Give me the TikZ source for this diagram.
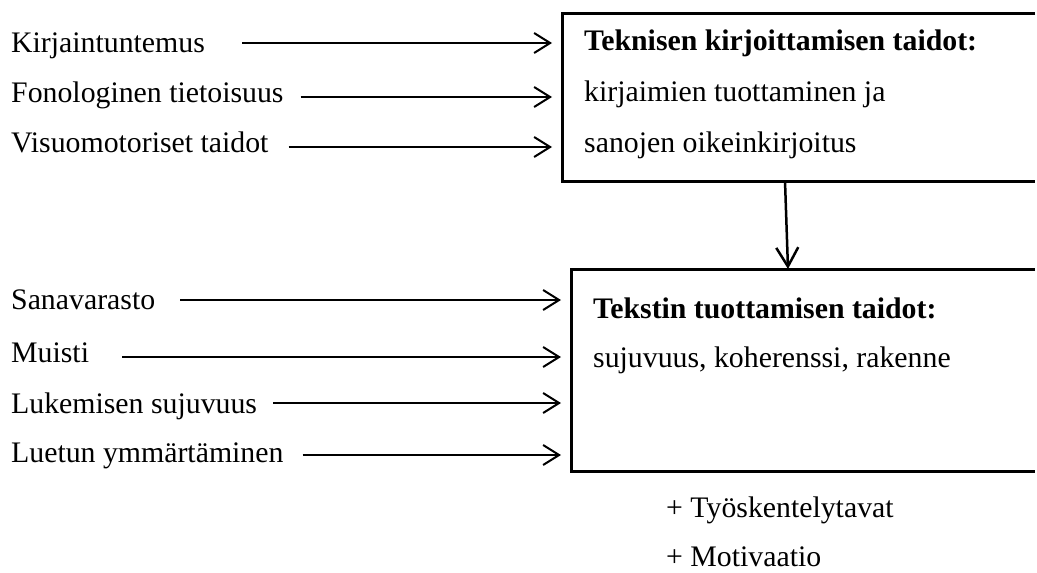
\documentclass[tikz,border=0pt]{standalone}
\usepackage{fontspec}
\setmainfont{Liberation Serif}
\usetikzlibrary{arrows.meta}
\begin{document}
\begin{tikzpicture}[x=1pt,y=1pt,
  lab/.style={anchor=base west, inner sep=0pt, font=\fontsize{29.8}{36}\selectfont},
  box/.style={rectangle, inner sep=0pt, outer sep=0pt, anchor=north west},
  boxline/.style={line width=3pt, line join=miter},
  arr/.style={line width=2pt, shorten >=10pt, -{Straight Barb[length=16pt,width=20pt,line width=2pt]}},
  varr/.style={line width=2.5pt, -{Straight Barb[length=19pt,width=22pt,line width=2.5pt]}}
]
\useasboundingbox (0,0) rectangle (1037,-573);

% boxes (open on the right: they run to the picture edge)
\node[box, minimum width=473pt, minimum height=168pt] (b1) at (562,-13) {};
\node[box, minimum width=464pt, minimum height=202pt] (b2) at (571,-269) {};
\draw[boxline] (b1.north east) -- (b1.north west) -- (b1.south west) -- (b1.south east);
\draw[boxline] (b2.north east) -- (b2.north west) -- (b2.south west) -- (b2.south east);

% box texts
\node[lab] (t1) at (584,-50) {\textbf{Teknisen kirjoittamisen taidot:}};
\node[lab] (t2) at (584,-101) {kirjaimien tuottaminen ja};
\node[lab] (t3) at (584,-152) {sanojen oikeinkirjoitus};
\node[lab] (t4) at (593,-318) {\textbf{Tekstin tuottamisen taidot:}};
\node[lab] (t5) at (593,-367) {sujuvuus, koherenssi, rakenne};

% left labels
\node[lab] (k) at (11,-52) {Kirjaintuntemus};
\node[lab] (f) at (11,-102) {Fonologinen tietoisuus};
\node[lab] (v) at (11,-152) {Visuomotoriset taidot};
\node[lab] (s) at (11,-309) {Sanavarasto};
\node[lab] (m) at (11,-362) {Muisti};
\node[lab] (l) at (11,-413) {Lukemisen sujuvuus};
\node[lab] (y) at (11,-462) {Luetun ymmärtäminen};

% extra factors
\node[lab] (p1) at (666,-517) {+ Työskentelytavat};
\node[lab] (p2) at (666,-566) {+ Motivaatio};

% connectors
\draw[arr] ([xshift=37pt,yshift=9pt]k.base east) coordinate (ka) -- (ka -| b1.west);
\draw[arr] ([xshift=17pt,yshift=5pt]f.base east) coordinate (fa) -- (fa -| b1.west);
\draw[arr] ([xshift=20pt,yshift=5pt]v.base east) coordinate (va) -- (va -| b1.west);
\draw[arr] ([xshift=25pt,yshift=9pt]s.base east) coordinate (sa) -- (sa -| b2.west);
\draw[arr] ([xshift=33pt,yshift=5pt]m.base east) coordinate (ma) -- (ma -| b2.west);
\draw[arr] ([xshift=16pt,yshift=10pt]l.base east) coordinate (la) -- (la -| b2.west);
\draw[arr] ([xshift=19pt,yshift=7pt]y.base east) coordinate (ya) -- (ya -| b2.west);
\draw[varr] ([xshift=223pt]b1.south west) -- ([xshift=217pt]b2.north west);
\end{tikzpicture}
\end{document}
